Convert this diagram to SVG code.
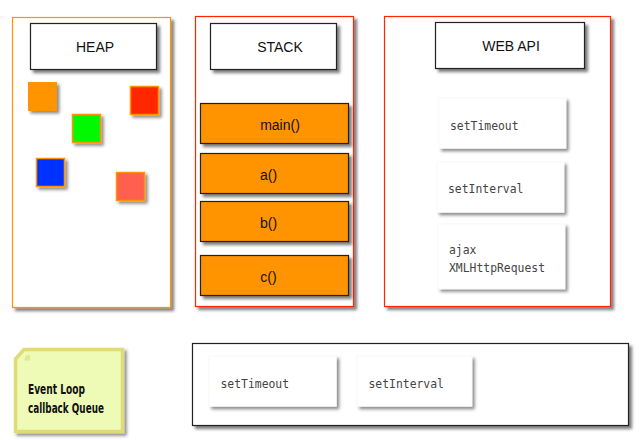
<svg xmlns="http://www.w3.org/2000/svg" width="640" height="440" viewBox="0 0 640 440">
<defs>
<filter id="sh" x="-20%" y="-20%" width="150%" height="150%">
<feDropShadow dx="3" dy="3" stdDeviation="1.6" flood-color="#000" flood-opacity="0.5"/>
</filter>
<filter id="sh2" x="-20%" y="-20%" width="150%" height="150%">
<feDropShadow dx="2.5" dy="2.5" stdDeviation="1.5" flood-color="#000" flood-opacity="0.45"/>
</filter>
</defs>
<style>
.cont{fill:#fff;stroke-width:1.2;filter:url(#sh)}
.title{fill:#fff;stroke:#222;stroke-width:1.2;filter:url(#sh)}
.fn{fill:#FF9300;stroke:#222;stroke-width:1.2;filter:url(#sh)}
.sq{stroke:#FF9300;stroke-width:1.5;filter:url(#sh2)}
.card{fill:#fff;stroke:#f2f2f2;stroke-width:0.5;filter:url(#sh2)}
.lbl{font-family:"Liberation Sans",Arial,sans-serif;font-size:14px;fill:#111}
.code{font-family:"DejaVu Sans Mono","Liberation Mono",monospace;font-size:11.4px;fill:#444}
.note{font-family:"DejaVu Sans Condensed","DejaVu Sans",sans-serif;font-weight:bold;font-size:14.5px;fill:#111}
</style>

<g id="heap">
<rect class="cont" x="12.5" y="17.5" width="158" height="290" stroke="#FF9300"/>
<rect class="title" x="30.5" y="23.5" width="126" height="46"/>
<text class="lbl" x="95" y="52" text-anchor="middle">HEAP</text>
<rect x="28" y="82" width="29" height="29" fill="#FF9300" filter="url(#sh2)"/>
<rect class="sq" x="130.5" y="86.5" width="28" height="28" fill="#FF2600"/>
<rect class="sq" x="72.5" y="114.5" width="28" height="28" fill="#00F900"/>
<rect class="sq" x="36.5" y="158.5" width="28" height="28" fill="#0433FF"/>
<rect class="sq" x="116.5" y="172.5" width="28" height="28" fill="#FF5E50"/>
</g>

<g id="stack">
<rect class="cont" x="195.5" y="16.5" width="158" height="290" stroke="#FF2600"/>
<rect class="title" x="210.5" y="23.5" width="126" height="46"/>
<text class="lbl" x="280" y="52" text-anchor="middle">STACK</text>
</g>
<g id="main">
<rect class="fn" x="200.5" y="103.5" width="148" height="40"/>
<text class="lbl" x="280" y="130" text-anchor="middle">main()</text>
</g>
<g id="a">
<rect class="fn" x="200.5" y="153.5" width="148" height="40"/>
<text class="lbl" x="268.5" y="180" text-anchor="middle">a()</text>
</g>
<g id="b">
<rect class="fn" x="200.5" y="201.5" width="148" height="40"/>
<text class="lbl" x="268.5" y="228" text-anchor="middle">b()</text>
</g>
<g id="c">
<rect class="fn" x="200.5" y="255.5" width="148" height="40"/>
<text class="lbl" x="268.5" y="282" text-anchor="middle">c()</text>
</g>

<g id="webapi">
<rect class="cont" x="384.5" y="16.5" width="226" height="290" stroke="#FF2600"/>
<rect class="title" x="435.5" y="22.5" width="149" height="46"/>
<text class="lbl" x="511" y="51" text-anchor="middle">WEB API</text>
</g>
<g id="api-settimeout">
<rect class="card" x="439" y="98" width="127" height="50.5"/>
<text class="code" x="450" y="130">setTimeout</text>
</g>
<g id="api-setinterval">
<rect class="card" x="437" y="162" width="127" height="50.5"/>
<text class="code" x="448" y="193">setInterval</text>
</g>
<g id="api-ajax">
<rect class="card" x="438" y="224" width="127" height="65"/>
<text class="code" x="449" y="254">ajax</text>
<text class="code" x="449" y="271.5">XMLHttpRequest</text>
</g>

<g id="note">
<polygon points="24,349.5 122.5,349.5 122.5,431.5 15.5,431.5 15.5,359" fill="#EDFBB6" stroke="#E0DB78" stroke-width="3.5" stroke-linejoin="miter" filter="url(#sh2)"/>
<polygon points="26,355 30,355 30,360.5 24,360.5" fill="#E0DB78" opacity="0.6"/>
<text class="note" x="28" y="394" textLength="57" lengthAdjust="spacingAndGlyphs">Event Loop</text>
<text class="note" x="28" y="412.5" textLength="76" lengthAdjust="spacingAndGlyphs">callback Queue</text>
</g>

<g id="queue">
<rect x="192.5" y="343.5" width="436" height="82" fill="#fff" stroke="#222" stroke-width="1.2" filter="url(#sh)"/>
</g>
<g id="q-settimeout">
<rect class="card" x="209" y="356" width="127.5" height="50.5"/>
<text class="code" x="220.5" y="387.5">setTimeout</text>
</g>
<g id="q-setinterval">
<rect class="card" x="357" y="356" width="115" height="50.5"/>
<text class="code" x="368.5" y="387.5">setInterval</text>
</g>

<g id="connectors"></g>
</svg>
